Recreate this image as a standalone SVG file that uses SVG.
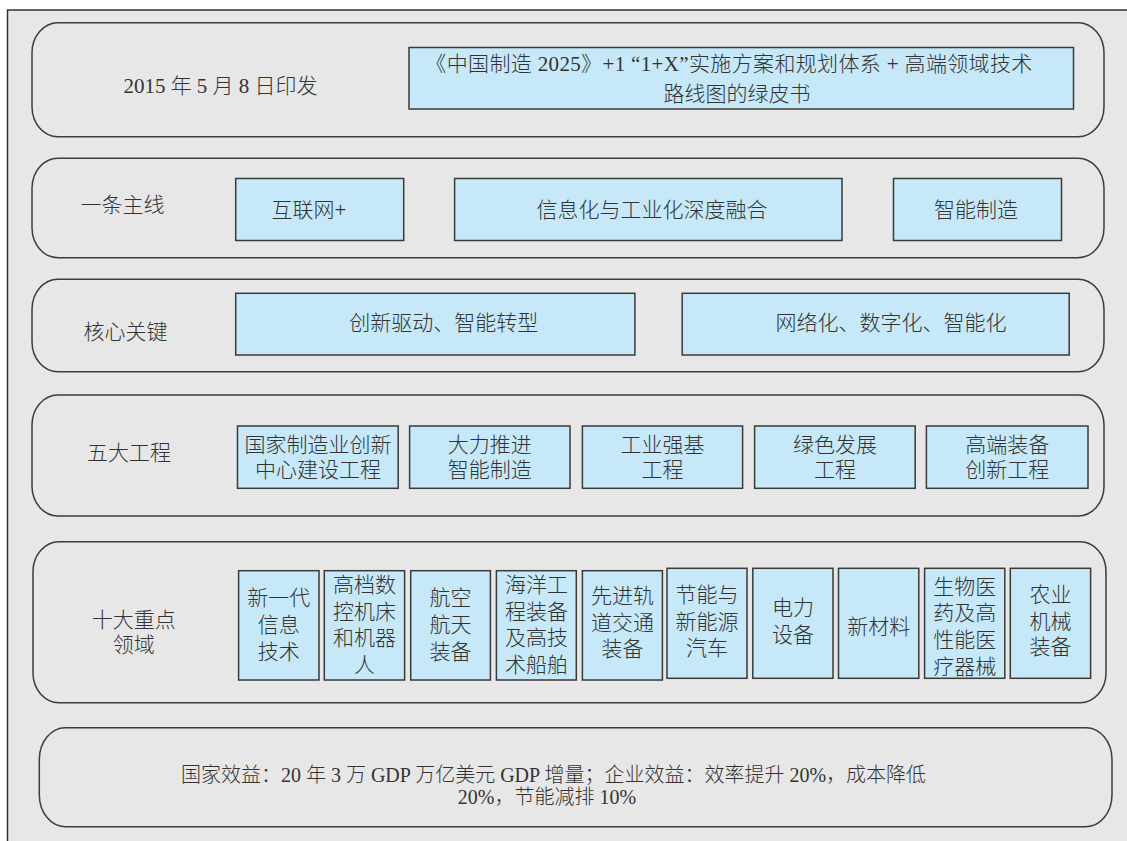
<svg xmlns="http://www.w3.org/2000/svg" width="1127" height="841" viewBox="0 0 1127 841">
<style>
.frame{fill:#e7e7e7;stroke:#333;stroke-width:1.5}
.band{fill:none;stroke:#3c3c3c;stroke-width:1.5}
.box{fill:#c6e8f8;stroke:#3a3a3a;stroke-width:1.5}
.t{font-family:"Liberation Serif","Noto Sans CJK SC",serif;font-size:21px;font-weight:300;fill:#333;text-anchor:middle;dominant-baseline:central}
.s{font-size:20px}
</style>
<rect x="0" y="0" width="1127" height="841" fill="#ffffff"/>
<rect class="frame" x="7.5" y="10" width="1130" height="840"/>

<g id="band-1">
<rect class="band" x="32" y="22.7" width="1072" height="114" rx="26" ry="30"/>
<text class="t" x="220.5" y="86">2015 年 5 月 8 日印发</text>
</g>
<g id="node-greenbook">
<rect class="box" x="409" y="47.5" width="664.5" height="61.5"/>
<text class="t"><tspan x="729" y="63.5" letter-spacing="0.35">《中国制造 2025》+1 “1+X”实施方案和规划体系 + 高端领域技术</tspan><tspan x="737" y="93.5">路线图的绿皮书</tspan></text>
</g>

<g id="band-2">
<rect class="band" x="32" y="158.3" width="1072" height="99.4" rx="26" ry="30"/>
<text class="t" x="122.5" y="205">一条主线</text>
</g>
<g id="node-internet">
<rect class="box" x="235.7" y="178.5" width="168" height="62"/>
<text class="t" x="309" y="210">互联网+</text>
</g>
<g id="node-fusion">
<rect class="box" x="454.6" y="178.5" width="387.4" height="62"/>
<text class="t" x="652" y="210">信息化与工业化深度融合</text>
</g>
<g id="node-smart">
<rect class="box" x="893.5" y="178.5" width="168" height="62"/>
<text class="t" x="976" y="210">智能制造</text>
</g>

<g id="band-3">
<rect class="band" x="32" y="279.3" width="1072" height="92.4" rx="26" ry="30"/>
<text class="t" x="125.5" y="331.7">核心关键</text>
</g>
<g id="node-innovation">
<rect class="box" x="235.7" y="293.3" width="399.2" height="61.7"/>
<text class="t" x="443.8" y="323.3">创新驱动、智能转型</text>
</g>
<g id="node-digital">
<rect class="box" x="682.2" y="293.3" width="387" height="61.7"/>
<text class="t" x="891" y="323.3">网络化、数字化、智能化</text>
</g>

<g id="band-4">
<rect class="band" x="32" y="395" width="1072" height="121" rx="26" ry="30"/>
<text class="t" x="129" y="453">五大工程</text>
</g>
<g id="node-p1">
<rect class="box" x="237.5" y="426" width="160.7" height="62.3"/>
<text class="t"><tspan x="317.9" y="445">国家制造业创新</tspan><tspan x="317.9" y="470">中心建设工程</tspan></text>
</g>
<g id="node-p2">
<rect class="box" x="409.6" y="426" width="160.4" height="62.3"/>
<text class="t"><tspan x="489.8" y="445">大力推进</tspan><tspan x="489.8" y="470">智能制造</tspan></text>
</g>
<g id="node-p3">
<rect class="box" x="582.4" y="426" width="160.2" height="62.3"/>
<text class="t"><tspan x="662.5" y="445">工业强基</tspan><tspan x="662.5" y="470">工程</tspan></text>
</g>
<g id="node-p4">
<rect class="box" x="754.6" y="426" width="160.6" height="62.3"/>
<text class="t"><tspan x="834.9" y="445">绿色发展</tspan><tspan x="834.9" y="470">工程</tspan></text>
</g>
<g id="node-p5">
<rect class="box" x="926.4" y="426" width="161.6" height="62.3"/>
<text class="t"><tspan x="1007.2" y="445">高端装备</tspan><tspan x="1007.2" y="470">创新工程</tspan></text>
</g>

<g id="band-5">
<rect class="band" x="33" y="541.7" width="1073" height="161" rx="26" ry="30"/>
<text class="t"><tspan x="133.7" y="620">十大重点</tspan><tspan x="133.7" y="645">领域</tspan></text>
</g>
<g id="node-f1">
<rect class="box" x="238.6" y="570.7" width="80.4" height="109.3"/>
<text class="t"><tspan x="278.8" y="598">新一代</tspan><tspan x="278.8" y="625">信息</tspan><tspan x="278.8" y="652">技术</tspan></text>
</g>
<g id="node-f2">
<rect class="box" x="324.3" y="570.7" width="80.3" height="109.3"/>
<text class="t"><tspan x="364.5" y="585">高档数</tspan><tspan x="364.5" y="611.7">控机床</tspan><tspan x="364.5" y="638.4">和机器</tspan><tspan x="364.5" y="665.1">人</tspan></text>
</g>
<g id="node-f3">
<rect class="box" x="410.7" y="570.7" width="79.7" height="109.3"/>
<text class="t"><tspan x="450.5" y="598">航空</tspan><tspan x="450.5" y="625">航天</tspan><tspan x="450.5" y="652">装备</tspan></text>
</g>
<g id="node-f4">
<rect class="box" x="496.4" y="570.7" width="79.9" height="109.3"/>
<text class="t"><tspan x="536.4" y="585">海洋工</tspan><tspan x="536.4" y="611.7">程装备</tspan><tspan x="536.4" y="638.4">及高技</tspan><tspan x="536.4" y="665.1">术船舶</tspan></text>
</g>
<g id="node-f5">
<rect class="box" x="582.4" y="570.7" width="80" height="109.3"/>
<text class="t"><tspan x="622.4" y="596">先进轨</tspan><tspan x="622.4" y="622.5">道交通</tspan><tspan x="622.4" y="649">装备</tspan></text>
</g>
<g id="node-f6">
<rect class="box" x="667" y="568.3" width="80" height="110"/>
<text class="t"><tspan x="707" y="595">节能与</tspan><tspan x="707" y="621.7">新能源</tspan><tspan x="707" y="648.3">汽车</tspan></text>
</g>
<g id="node-f7">
<rect class="box" x="752.8" y="568.3" width="80.2" height="110"/>
<text class="t"><tspan x="792.9" y="608.3">电力</tspan><tspan x="792.9" y="635">设备</tspan></text>
</g>
<g id="node-f8">
<rect class="box" x="838.5" y="568.3" width="80.3" height="110"/>
<text class="t" x="878.7" y="626.7">新材料</text>
</g>
<g id="node-f9">
<rect class="box" x="924.6" y="568.3" width="80.2" height="110"/>
<text class="t"><tspan x="964.7" y="586.7">生物医</tspan><tspan x="964.7" y="613.3">药及高</tspan><tspan x="964.7" y="640">性能医</tspan><tspan x="964.7" y="666.7">疗器械</tspan></text>
</g>
<g id="node-f10">
<rect class="box" x="1010.3" y="568.3" width="80.3" height="110"/>
<text class="t"><tspan x="1050.5" y="595">农业</tspan><tspan x="1050.5" y="621.7">机械</tspan><tspan x="1050.5" y="647">装备</tspan></text>
</g>

<g id="band-6">
<rect class="band" x="39.3" y="727.7" width="1072.7" height="99" rx="26" ry="32"/>
<text class="t s"><tspan x="553.5" y="775">国家效益：20 年 3 万 GDP 万亿美元 GDP 增量；企业效益：效率提升 20%，成本降低</tspan><tspan x="547" y="797">20%，节能减排 10%</tspan></text>
</g>

<g id="connectors"/>
</svg>
